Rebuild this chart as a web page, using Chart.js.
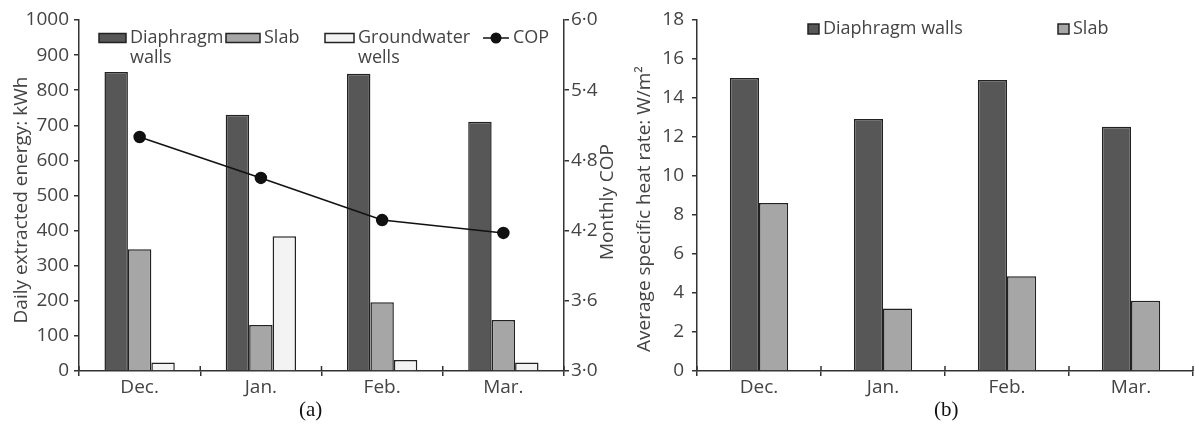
<!DOCTYPE html>
<html>
<head>
<meta charset="utf-8">
<script src="https://cdn.jsdelivr.net/npm/chart.js@4.4.1/dist/chart.umd.min.js"></script>
<style>
    body { margin: 0; background: #fff; width: 1195px; height: 437px; position: relative; overflow: hidden; }
    .wrap { position: absolute; top: 0; height: 400px; }
    #wrapA { left: 0; width: 640px; }
    #wrapB { left: 620px; width: 575px; }
    .cap { position: absolute; top: 397px; font: 21px 'Liberation Serif', serif; color: #111; }
</style>
</head>
<body>
<div class="wrap" id="wrapA"><canvas id="chartA" width="640" height="400"></canvas></div>
<div class="wrap" id="wrapB"><canvas id="chartB" width="575" height="400"></canvas></div>
<div class="cap" style="left:299px">(a)</div>
<div class="cap" style="left:934px">(b)</div>
<script>
const months = ['Dec.', 'Jan.', 'Feb.', 'Mar.'];

// (a) daily extracted energy, kWh, and monthly COP
const wallsEnergy = [852, 730, 847, 710];
const slabEnergy = [347, 131, 196, 145];
const wellsEnergy = [24, 384, 31, 24];
const monthlyCop = [5.0, 4.65, 4.29, 4.18];
const copTickLabels = ['3·0', '3·6', '4·2', '4·8', '5·4', '6·0'];

// (b) average specific heat rate, W/m2
const wallsRate = [15.0, 12.9, 14.9, 12.5];
const slabRate = [8.6, 3.2, 4.85, 3.6];

const FONT = "'Open Sans', sans-serif";
const TEXT = '#444';
const AXIS = '#333';
const DARK = '#575757';
const MID = '#a6a6a6';
const LIGHT = '#f3f3f3';
const EDGE = '#222';

Chart.defaults.font.family = FONT;
Chart.defaults.font.size = 19;
Chart.defaults.color = TEXT;

function axisStyle(extra) {
    return Object.assign({
        grid: { drawOnChartArea: false, color: AXIS, lineWidth: 1.5, tickLength: 5 },
        border: { color: AXIS, width: 1.5 },
        ticks: { color: TEXT, font: { size: 19 } }
    }, extra);
}

// upward half of the x ticks, plus rotated axis titles and the hand-laid legend
const decor = {
    id: 'decor',
    afterDraw(chart, args, opts) {
        const ctx = chart.ctx;
        const xs = chart.scales.x;
        const step = xs.width / months.length;
        ctx.save();
        ctx.strokeStyle = AXIS;
        ctx.lineWidth = 1.5;
        for (let i = 0; i <= months.length; i++) {
            const px = xs.left + i * step;
            ctx.beginPath();
            ctx.moveTo(px, xs.top - 5);
            ctx.lineTo(px, xs.top);
            ctx.stroke();
        }
        ctx.fillStyle = TEXT;
        ctx.font = '19px ' + FONT;
        ctx.textAlign = 'center';
        ctx.textBaseline = 'middle';
        (opts.titles || []).forEach(t => {
            ctx.save();
            ctx.translate(t.x, t.y);
            ctx.rotate(-Math.PI / 2);
            ctx.fillText(t.text, 0, 0);
            ctx.restore();
        });
        ctx.textAlign = 'left';
        ctx.font = '18px ' + FONT;
        (opts.legend || []).forEach(it => {
            if (it.line) {
                ctx.strokeStyle = '#111';
                ctx.beginPath();
                ctx.moveTo(it.x, it.y);
                ctx.lineTo(it.x + it.w, it.y);
                ctx.stroke();
                ctx.fillStyle = '#111';
                ctx.beginPath();
                ctx.arc(it.x + it.w / 2, it.y, 5.5, 0, Math.PI * 2);
                ctx.fill();
            } else {
                ctx.fillStyle = it.color;
                ctx.strokeStyle = EDGE;
                ctx.fillRect(it.x, it.y - it.h / 2, it.w, it.h);
                ctx.strokeRect(it.x, it.y - it.h / 2, it.w, it.h);
            }
            ctx.fillStyle = TEXT;
            it.text.forEach((line, k) => ctx.fillText(line, it.x + it.w + 4, it.y + k * 20));
        });
        ctx.restore();
    }
};

const barBase = { borderColor: EDGE, borderWidth: 1.5, barPercentage: 1.0, order: 1 };

new Chart(document.getElementById('chartA'), {
    type: 'bar',
    data: {
        labels: months,
        datasets: [
            Object.assign({ label: 'Diaphragm walls', data: wallsEnergy, backgroundColor: DARK, categoryPercentage: 0.58 }, barBase),
            Object.assign({ label: 'Slab', data: slabEnergy, backgroundColor: MID, categoryPercentage: 0.58 }, barBase),
            Object.assign({ label: 'Groundwater wells', data: wellsEnergy, backgroundColor: LIGHT, categoryPercentage: 0.58 }, barBase),
            {
                type: 'line', label: 'COP', data: monthlyCop, yAxisID: 'y1', order: 0,
                borderColor: '#111', borderWidth: 1.5, pointRadius: 5.5,
                pointBackgroundColor: '#111', pointBorderColor: '#111'
            }
        ]
    },
    options: {
        responsive: false,
        devicePixelRatio: 1,
        animation: false,
        layout: { padding: { top: 20, left: 0, right: 0, bottom: 0 } },
        plugins: {
            legend: { display: false },
            tooltip: { enabled: false },
            decor: {
                titles: [
                    { text: 'Daily extracted energy: kWh', x: 22, y: 200 },
                    { text: 'Monthly COP', x: 608, y: 202 }
                ],
                legend: [
                    { x: 99, y: 38, w: 27, h: 9, color: DARK, text: ['Diaphragm', 'walls'] },
                    { x: 226, y: 38, w: 34, h: 9, color: MID, text: ['Slab'] },
                    { x: 325, y: 38, w: 29, h: 9, color: LIGHT, text: ['Groundwater', 'wells'] },
                    { x: 483, y: 38, w: 26, line: true, text: ['COP'] }
                ]
            }
        },
        scales: {
            x: axisStyle({
                grid: { offset: true, drawOnChartArea: false, color: AXIS, lineWidth: 1.5, tickLength: 5 },
                ticks: { color: TEXT, font: { size: 19 }, padding: 0 },
                afterFit: s => { s.height = 29; }
            }),
            y: axisStyle({
                min: 0, max: 1000,
                ticks: { color: TEXT, font: { size: 19 }, stepSize: 100, padding: 5, callback: v => String(v) },
                afterFit: s => { s.width = 79; }
            }),
            y1: axisStyle({
                position: 'right', min: 3, max: 6,
                ticks: { color: TEXT, font: { size: 19 }, stepSize: 0.6, padding: 2,
                         callback: (v, i) => copTickLabels[i] },
                afterFit: s => { s.width = 76; }
            })
        }
    },
    plugins: [decor]
});

new Chart(document.getElementById('chartB'), {
    type: 'bar',
    data: {
        labels: months,
        datasets: [
            Object.assign({ label: 'Diaphragm walls', data: wallsRate, backgroundColor: DARK, categoryPercentage: 0.47 }, barBase),
            Object.assign({ label: 'Slab', data: slabRate, backgroundColor: MID, categoryPercentage: 0.47 }, barBase)
        ]
    },
    options: {
        responsive: false,
        devicePixelRatio: 1,
        animation: false,
        layout: { padding: { top: 13, left: 0, right: 2, bottom: 0 } },
        plugins: {
            legend: { display: false },
            tooltip: { enabled: false },
            decor: {
                titles: [
                    { text: 'Average specific heat rate: W/m²', x: 25, y: 209 }
                ],
                legend: [
                    { x: 188, y: 29, w: 11, h: 10, color: DARK, text: ['Diaphragm walls'] },
                    { x: 438, y: 29, w: 11, h: 10, color: MID, text: ['Slab'] }
                ]
            }
        },
        scales: {
            x: axisStyle({
                grid: { offset: true, drawOnChartArea: false, color: AXIS, lineWidth: 1.5, tickLength: 5 },
                ticks: { color: TEXT, font: { size: 19 }, padding: 0 },
                afterFit: s => { s.height = 29; }
            }),
            y: axisStyle({
                min: 0, max: 18,
                ticks: { color: TEXT, font: { size: 19 }, stepSize: 2, padding: 8 },
                afterFit: s => { s.width = 77; }
            })
        }
    },
    plugins: [decor]
});
</script>
</body>
</html>
